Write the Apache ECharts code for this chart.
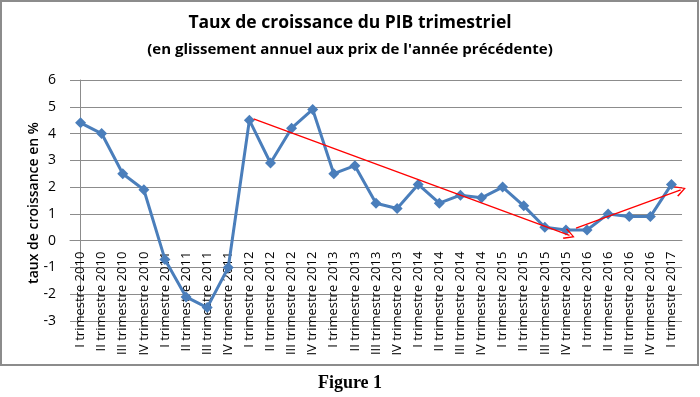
<!DOCTYPE html>
<html>
<head>
<meta charset="utf-8">
<script src="https://cdn.jsdelivr.net/npm/echarts@6/dist/echarts.min.js"></script>
<style>
  html, body { margin: 0; padding: 0; background: #fff; }
  #chart { width: 700px; height: 397px; }
</style>
</head>
<body>
<div id="chart"></div>
<script>
// trimestres 2010 T1 -> 2017 T1
const quarters = [
  "I trimestre 2010", "II trimestre 2010", "III trimestre 2010", "IV trimestre 2010",
  "I trimestre 2011", "II trimestre 2011", "III trimestre 2011", "IV trimestre 2011",
  "I trimestre 2012", "II trimestre 2012", "III trimestre 2012", "IV trimestre 2012",
  "I trimestre 2013", "II trimestre 2013", "III trimestre 2013", "IV trimestre 2013",
  "I trimestre 2014", "II trimestre 2014", "III trimestre 2014", "IV trimestre 2014",
  "I trimestre 2015", "II trimestre 2015", "III trimestre 2015", "IV trimestre 2015",
  "I trimestre 2016", "II trimestre 2016", "III trimestre 2016", "IV trimestre 2016",
  "I trimestre 2017",
];

const growth = [
  4.4, 4.0, 2.5, 1.9,
  -0.7, -2.1, -2.5, -1.0,
  4.5, 2.9, 4.2, 4.9,
  2.5, 2.8, 1.4, 1.2,
  2.1, 1.4, 1.7, 1.6,
  2.0, 1.3, 0.5, 0.4,
  0.4, 1.0, 0.9, 0.9,
  2.1,
];

// flèches de tendance : [indice trimestre, valeur] début -> fin
const trendDown = [[8.2, 4.55], [23.17, 0.2]];
const trendUp = [[23.48, 0.47], [28.44, 1.9]];

const yTicks = { min: -3, max: 6, interval: 1 };
const yTitle = "taux de croissance en %";

const chart = echarts.init(document.getElementById("chart"));
const grey = "#8c8c8c";
const openArrow = "path://M10,0 L20,14 L18,15.5 L10,3.5 L2,15.5 L0,14 Z";

// hauteur d'une unité de l'axe y, pour placer les libellés à 0 comme dans Excel
const plotTop = 80, plotBottom = 76;
const unit = (397 - plotTop - plotBottom) / (yTicks.max - yTicks.min);

chart.setOption({
  animation: false,
  textStyle: { fontFamily: "Open Sans" },
  title: [
    {
      text: "Taux de croissance du PIB trimestriel",
      left: "center",
      top: 9,
      textStyle: { fontSize: 17.5, fontWeight: "bold", color: "#000", fontFamily: "Open Sans" },
    },
    {
      text: "(en glissement annuel aux prix de l'année précédente)",
      left: "center",
      top: 37,
      textStyle: { fontSize: 15, fontWeight: "bold", color: "#000", fontFamily: "Open Sans" },
    },
    {
      text: "Figure 1",
      left: "center",
      top: 369,
      textStyle: { fontSize: 18, fontWeight: "bold", color: "#000", fontFamily: "Liberation Serif" },
    },
  ],
  graphic: [
    {
      type: "rect",
      shape: { x: 1, y: 1, width: 697, height: 364 },
      style: { fill: "none", stroke: grey, lineWidth: 2 },
      silent: true,
    },
    {
      type: "text",
      x: 34,
      y: 203,
      rotation: Math.PI / 2,
      silent: true,
      style: {
        text: yTitle,
        align: "center",
        verticalAlign: "middle",
        fill: "#000",
        font: "600 14px 'Open Sans'",
      },
    },
  ],
  grid: { left: 70, right: 18, top: plotTop, bottom: plotBottom, containLabel: false, outerBoundsMode: "none" },
  xAxis: [
    {
      type: "category",
      data: quarters,
      boundaryGap: true,
      position: "bottom",
      offset: -unit * (0 - yTicks.min),
      axisLine: { onZero: false, lineStyle: { color: grey } },
      axisTick: { show: false },
      axisLabel: { rotate: 90, interval: 0, margin: 11, fontSize: 13, color: "#000" },
    },
    { type: "value", min: -0.5, max: 28.5, show: false },
  ],
  yAxis: {
    type: "value",
    ...yTicks,
    axisLine: { show: true, lineStyle: { color: grey } },
    axisTick: { show: false },
    axisLabel: { fontSize: 14, color: "#000", margin: 14 },
    splitLine: { lineStyle: { color: grey, width: 1 } },
  },
  series: [
    {
      name: "PIB",
      type: "line",
      data: growth,
      symbol: "diamond",
      symbolSize: 11,
      lineStyle: { color: "#4a7ebb", width: 3 },
      itemStyle: { color: "#4a7ebb" },
    },
    {
      name: "tendance",
      type: "line",
      xAxisIndex: 1,
      data: [],
      markLine: {
        silent: true,
        symbol: ["none", openArrow],
        symbolSize: [11, 11],
        label: { show: false },
        lineStyle: { color: "#ff0000", width: 1.3, type: "solid" },
        data: [
          [{ coord: trendDown[0] }, { coord: trendDown[1] }],
          [{ coord: trendUp[0] }, { coord: trendUp[1] }],
        ],
      },
    },
  ],
});
</script>
</body>
</html>
